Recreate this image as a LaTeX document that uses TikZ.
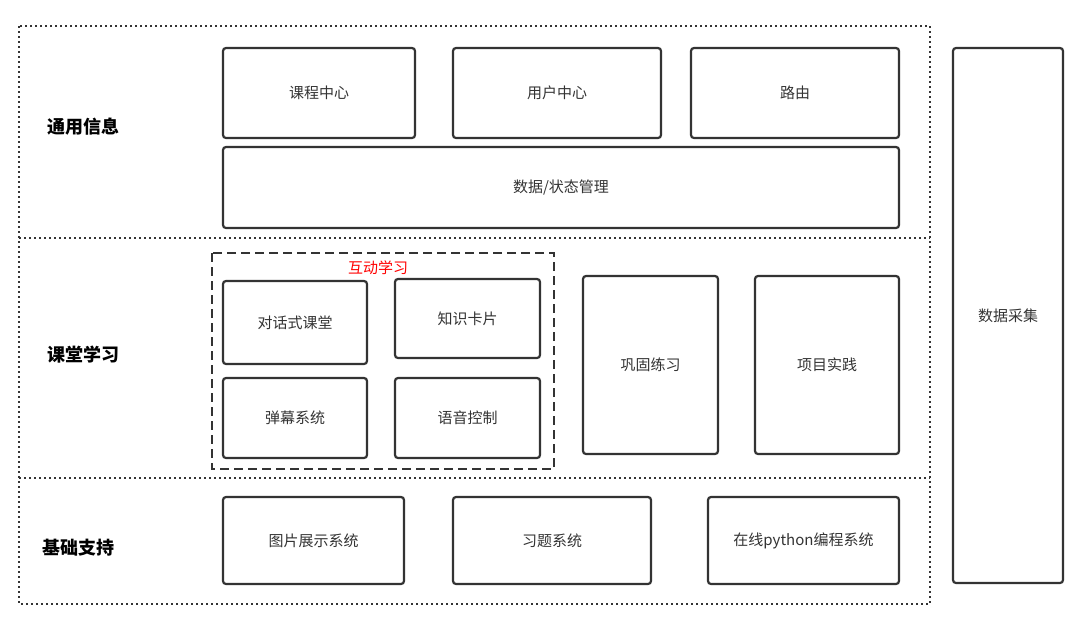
\documentclass[tikz,border=0pt]{standalone}
\usepackage{fontspec}
\setmainfont{Noto Sans CJK SC}
\tikzset{
    modbox/.style={draw=black!80, line width=2.2pt, rounded corners=3pt, font=\fontsize{15}{17}\selectfont, text=black!80},
    layername/.style={font=\fontsize{18}{20}\selectfont\bfseries}
}
\newcommand{\blk}[6]{%
    \node[modbox, minimum width={#4-#2}, minimum height={#5-#3}] (#1) at ({(#2+#4)/2},{(#3+#5)/2}) {#6};}
\begin{document}
\begin{tikzpicture}[x=1pt,y=-1pt]
    \useasboundingbox (0,0) rectangle (1090,619);
    % layers
    \draw[line width=2pt, dash pattern=on 2pt off 3pt, black!80] (19,26) rectangle (930,604);
    \draw[line width=1.6pt, dash pattern=on 2pt off 3pt, black!80] (19,238) -- (930,238);
    \draw[line width=1.6pt, dash pattern=on 2pt off 3pt, black!80] (19,478) -- (930,478);
    \node[layername] (top) at (83,127) {通用信息};
    \node[layername] (mid) at (83,355) {课堂学习};
    \node[layername] (bot) at (78,548) {基础支持};
    % interactive group
    \draw[line width=2.2pt, dash pattern=on 9pt off 5pt, black!80] (212,253) rectangle (554,469);
    \node[text=red, font=\fontsize{15}{17}\selectfont] (grp) at (378,268) {互动学习};
    % modules
    \blk{course}{223}{48}{415}{138}{课程中心}
    \blk{user}{453}{48}{661}{138}{用户中心}
    \blk{route}{691}{48}{899}{138}{路由}
    \blk{state}{223}{147}{899}{228}{数据/状态管理}
    \blk{dialog}{223}{281}{367}{364}{对话式课堂}
    \blk{card}{395}{279}{540}{358}{知识卡片}
    \blk{danmu}{223}{378}{367}{458}{弹幕系统}
    \blk{voice}{395}{378}{540}{458}{语音控制}
    \blk{practice}{583}{276}{718}{454}{巩固练习}
    \blk{project}{755}{276}{899}{454}{项目实践}
    \blk{image}{223}{497}{404}{584}{图片展示系统}
    \blk{exercise}{453}{497}{651}{584}{习题系统}
    \blk{python}{708}{497}{899}{584}{在线python编程系统}
    \blk{collect}{953}{48}{1063}{583}{数据采集}
\end{tikzpicture}
\end{document}
